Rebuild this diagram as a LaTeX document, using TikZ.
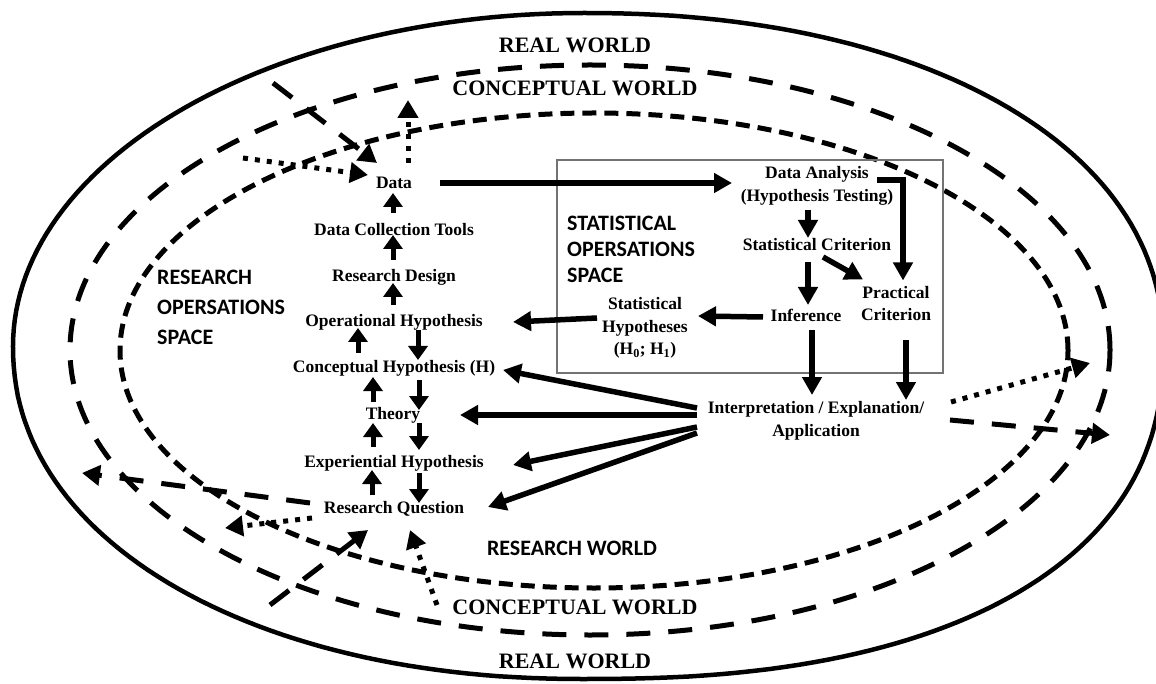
\documentclass[tikz,border=0pt]{standalone}
\usepackage{fontspec}
\setmainfont{Liberation Serif}
\newfontfamily\sansf{Carlito}
\usetikzlibrary{arrows.meta,calc}
\begin{document}
\begin{tikzpicture}[x=1pt,y=-1pt,
  lbl/.style={font=\bfseries\fontsize{17.5}{22.5}\selectfont,align=center,inner sep=0pt},
  world/.style={font=\bfseries\fontsize{22}{26}\selectfont,inner sep=0pt},
  spacelbl/.style={font=\sansf\bfseries\fontsize{22}{#1}\selectfont,align=left,inner sep=0pt,anchor=west},
  arr/.style={line width=5.5pt,-{Triangle[length=18pt,width=19pt]}},
  colarr/.style={line width=5pt,-{Triangle[length=14pt,width=19pt]}},
  longdash/.style={line width=5pt,dash pattern=on 24pt off 18pt},
  shortdash/.style={line width=5pt,dash pattern=on 14pt off 8pt},
  dotline/.style={line width=5pt,dash pattern=on 5pt off 7pt},
  dasharr/.style={longdash,-{Triangle[length=18pt,width=20pt]}},
  dotarr/.style={dotline,-{Triangle[length=18pt,width=20pt]}},
  solidring/.style={line width=4.5pt},
  statbox/.style={draw=black!55,line width=1.2pt}
]
\useasboundingbox (0,0) rectangle (1156,684);

% outer solid ring (real world): four quarter super-ellipse arcs
\draw[solidring]
  plot[domain=0.01:89.99,samples=60]
    ({583+580*pow(abs(cos(\x)),0.93)},{346-333*pow(abs(sin(\x)),0.93)})
  -- plot[domain=90.01:179.99,samples=60]
    ({583-570*pow(abs(cos(\x)),1.0)},{346-333*pow(abs(sin(\x)),1.0)})
  -- plot[domain=180.01:269.99,samples=60]
    ({583-570*pow(abs(cos(\x)),0.95)},{346+333*pow(abs(sin(\x)),0.95)})
  -- plot[domain=270.01:359.99,samples=60]
    ({583+580*pow(abs(cos(\x)),0.85)},{346+333*pow(abs(sin(\x)),0.85)})
  -- cycle;

% middle dashed ring (conceptual world)
\draw[longdash] (590,350) ellipse [x radius=520pt, y radius=285pt];

% inner dashed ring (research world)
\draw[shortdash] (594,350.5) ellipse [x radius=474pt, y radius=237.5pt];

% statistical operations box
\draw[statbox] (557,160) rectangle (943,373);

% world labels
\node[world] (rwtop) at (575,45) {REAL WORLD};
\node[world] (cwtop) at (575,88) {CONCEPTUAL WORLD};
\node[world] (cwbot) at (575,607) {CONCEPTUAL WORLD};
\node[world] (rwbot) at (575,661) {REAL WORLD};
\node[font=\sansf\bfseries\fontsize{22}{26}\selectfont,inner sep=0pt] (resw) at (572,548) {RESEARCH WORLD};
\node[spacelbl=30] (ros) at (157,307) {RESEARCH\\OPERSATIONS\\SPACE};
\node[spacelbl=26] (sos) at (567,249) {STATISTICAL\\OPERSATIONS\\SPACE};

% research column
\node[lbl] (data) at (394,183) {Data};
\node[lbl] (dct) at (394,230) {Data Collection Tools};
\node[lbl] (rd) at (394,277) {Research Design};
\node[lbl] (oh) at (394,322) {Operational Hypothesis};
\node[lbl] (ch) at (394,368) {Conceptual Hypothesis (H)};
\node[lbl] (th) at (393,415) {Theory};
\node[lbl] (ex) at (394,463) {Experiential Hypothesis};
\node[lbl] (rq) at (394,509) {Research Question};

% statistical nodes
\node[lbl] (da) at (817,186) {Data Analysis\\(Hypothesis Testing)};
\node[lbl] (sc) at (817,245) {Statistical Criterion};
\node[lbl] (inf) at (806,315) {Inference};
\node[lbl] (pc) at (896,303.5) {Practical\\Criterion};
\node[lbl] (sh) at (645,328) {Statistical\\Hypotheses\\(H\textsubscript{0}; H\textsubscript{1})};
\node[lbl] (interp) at (816,421) {Interpretation / Explanation/\\Application};

% column arrows
\draw[colarr] ($(dct)+(-1,-17)$) -- ($(data)+(-1,10)$);
\draw[colarr] ($(rd)+(-1,-17)$) -- ($(dct)+(-1,5)$);
\draw[colarr] ($(oh)+(-1,-17)$) -- ($(rd)+(-1,6)$);
\draw[colarr] ($(ch)+(-36,-15)$) -- ($(oh)+(-36,6)$);
\draw[colarr] ($(oh)+(24,8)$) -- ($(ch)+(24,-8)$);
\draw[colarr] ($(th)+(-20,-13)$) -- ($(ch)+(-21,9)$);
\draw[colarr] ($(ch)+(25,12)$) -- ($(th)+(26,-5)$);
\draw[colarr] ($(ex)+(-21,-16)$) -- ($(th)+(-20,8)$);
\draw[colarr] ($(th)+(26,8)$) -- ($(ex)+(25,-13)$);
\draw[colarr] ($(rq)+(-22,-14)$) -- ($(ex)+(-22,7)$);
\draw[colarr] ($(ex)+(25,10)$) -- ($(rq)+(25,-6)$);

% main arrows
\draw[arr] ($(data)+(46,0)$) -- ($(da)+(-85,-3)$);
\draw[arr,line join=miter] ($(da)+(60,-6)$) -| ($(pc)+(7,-23)$);
\draw[arr] ($(da)+(-9,24)$) -- ($(sc)+(-9,-7)$);
\draw[arr] ($(sc)+(6,12)$) -- ($(pc)+(-33,-24)$);
\draw[arr] ($(sc)+(-9,17)$) -- ($(inf)+(2,-10)$);
\draw[arr] ($(inf)+(-43,2)$) -- ($(sh)+(53,-12)$);
\draw[arr] ($(sh)+(-48,-10)$) -- ($(oh)+(119,0)$);
\draw[arr] ($(inf)+(6,15)$) -- ($(interp)+(-4,-26)$);
\draw[arr] ($(pc)+(10,36.5)$) -- ($(interp)+(90,-21)$);
\draw[arr] ($(interp)+(-119,-13)$) -- ($(ch)+(109,2)$);
\draw[arr] ($(interp)+(-119,-6)$) -- ($(th)+(67,0)$);
\draw[arr] ($(interp)+(-119,6)$) -- ($(ex)+(119,2)$);
\draw[arr] ($(interp)+(-119,12)$) -- ($(rq)+(94,-2)$);

% free ends of the world-crossing arrows
\coordinate (tl1) at (273,83);
\coordinate (tl2) at (243,158);
\coordinate (tl3) at (408,100);
\coordinate (bl1) at (82,473);
\coordinate (bl2) at (225,528);
\coordinate (bl3) at (270,605);
\coordinate (bl4) at (437,605);
\coordinate (r1) at (1090,363);
\coordinate (r2) at (1110,435);

\draw[dasharr] (tl1) -- ($(data)+(-17,-20)$);
\draw[dotarr] (tl2) -- ($(data)+(-26,-8)$);
\draw[dotarr] ($(data)+(14,-20)$) -- (tl3);
\draw[dasharr] ($(rq)+(-84,-6)$) -- (bl1);
\draw[dotarr] ($(rq)+(-82,9)$) -- (bl2);
\draw[dasharr] (bl3) -- ($(rq)+(-26,21)$);
\draw[dotarr] (bl4) -- ($(rq)+(16,21)$);
\draw[dotarr] ($(interp)+(135,-19)$) -- (r1);
\draw[dasharr] ($(interp)+(134,-1)$) -- (r2);
\end{tikzpicture}
\end{document}
